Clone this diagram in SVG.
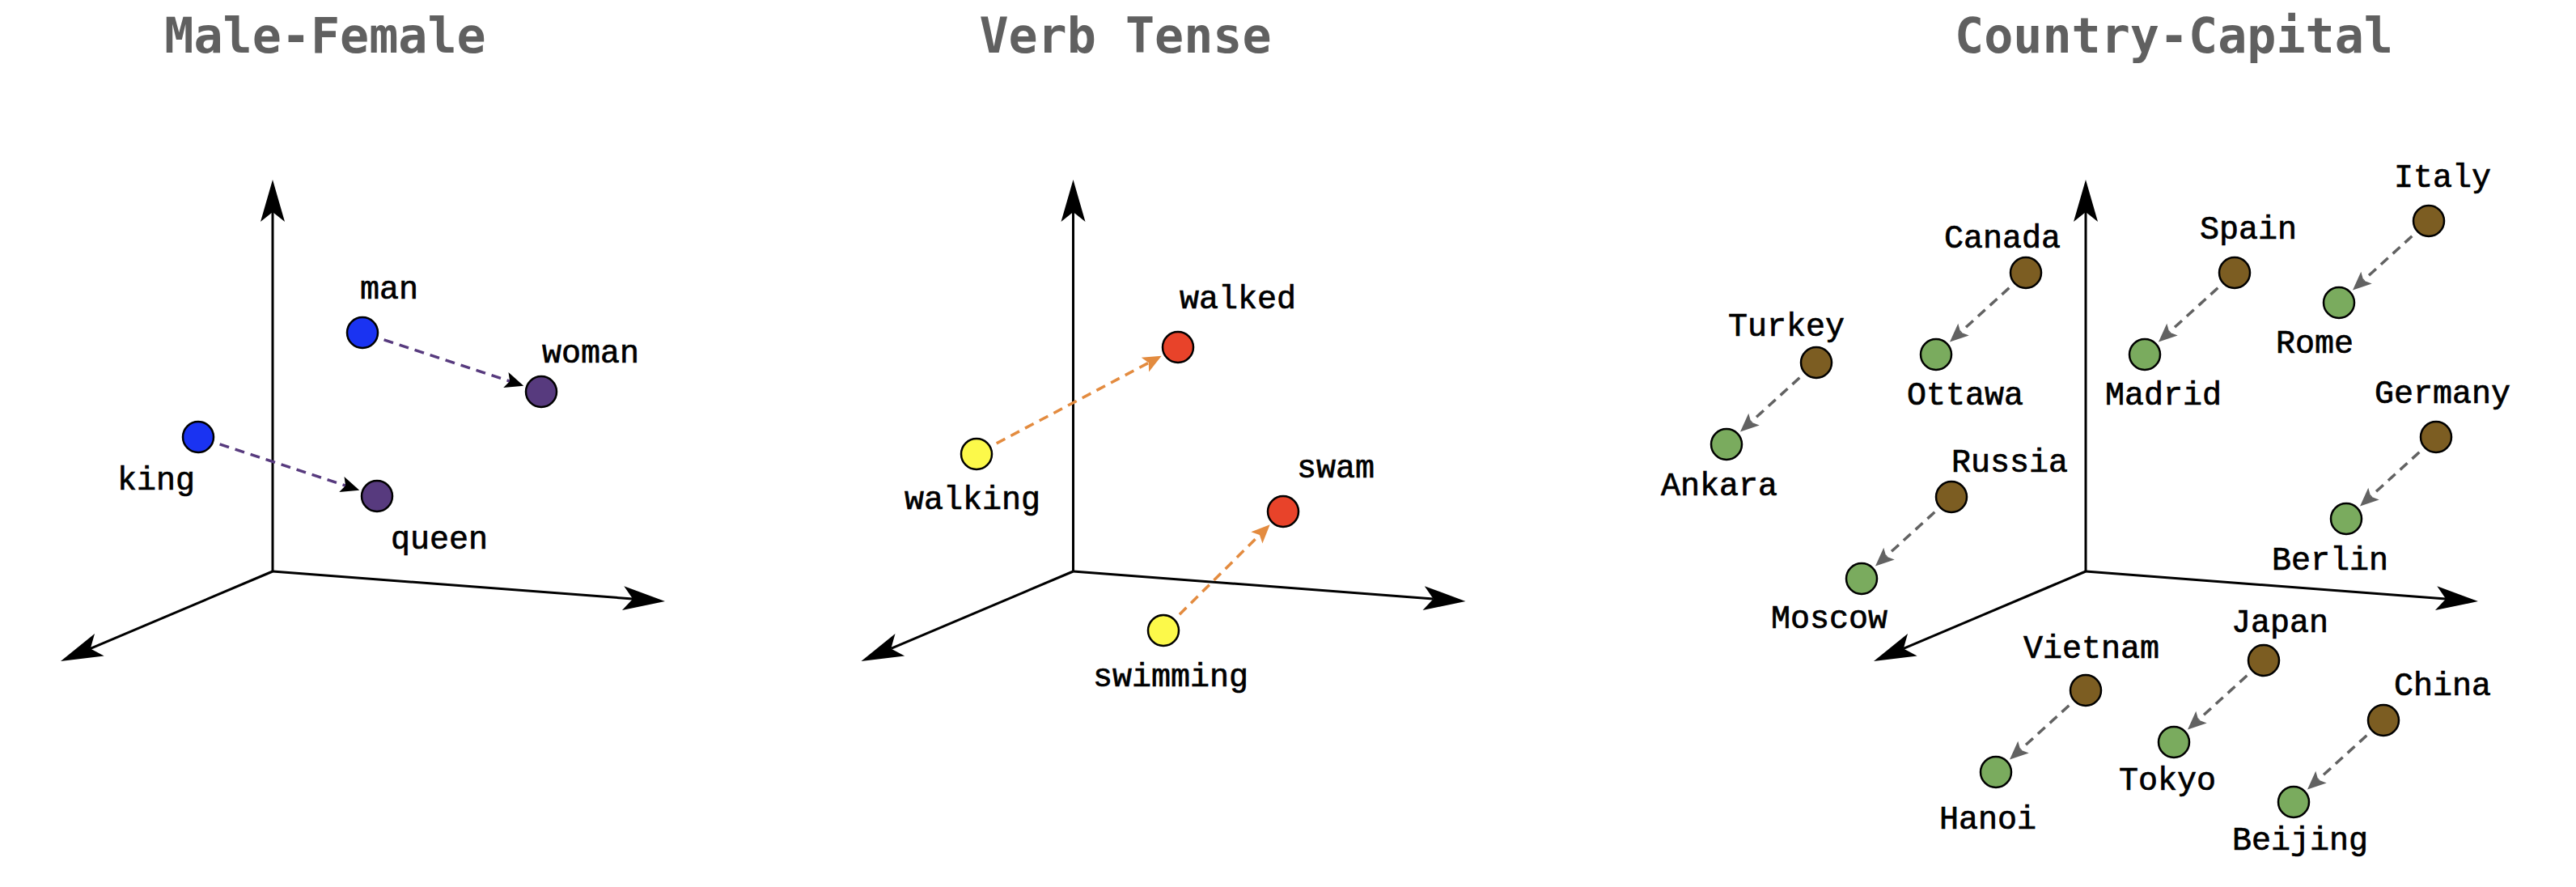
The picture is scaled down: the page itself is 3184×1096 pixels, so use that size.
<svg xmlns="http://www.w3.org/2000/svg" xmlns:xlink="http://www.w3.org/1999/xlink" width="3184" height="1096" viewBox="0 0 3184 1096">
<style>
.title{font-family:"DejaVu Sans Mono","Liberation Mono",monospace;font-weight:bold;font-size:60px;fill:#606060;text-anchor:middle}
.lbl{font-family:"Liberation Mono","Courier New",monospace;font-size:40px;fill:#000;stroke:#000;stroke-width:0.7}
.axis{stroke:#000;stroke-width:3;fill:none}
.pt{stroke:#000;stroke-width:2.5}
.blue{fill:#1a33f2}.purple{fill:#573a7e}.red{fill:#e8432a}.yellow{fill:#fcf94a}.brown{fill:#7c5d22}.green{fill:#7aab5e}
.dash{stroke-width:3.5;stroke-dasharray:12 8;fill:none}
.d-purple{stroke:#573a7e}.d-orange{stroke:#e38b3f}.d-gray{stroke:#626262}
</style>
<defs>
<marker id="axhead" markerUnits="userSpaceOnUse" viewBox="-14 -16 56 32" markerWidth="56" markerHeight="32" refX="0" refY="0" orient="auto" overflow="visible">
<path d="M40,0 L-12,-15 L0,0 L-12,15 Z" fill="#000"/>
</marker>
<marker id="hd-black" markerUnits="userSpaceOnUse" viewBox="-6 -12 26 24" markerWidth="26" markerHeight="24" refX="0" refY="0" orient="auto" overflow="visible">
<path d="M18,0 L-5,-10 L0,0 L-5,10 Z" fill="#000"/>
</marker>
<marker id="hd-orange" markerUnits="userSpaceOnUse" viewBox="-6 -12 26 24" markerWidth="26" markerHeight="24" refX="0" refY="0" orient="auto" overflow="visible">
<path d="M18,0 L-5,-10 L0,0 L-5,10 Z" fill="#e38b3f"/>
</marker>
<marker id="hd-gray" markerUnits="userSpaceOnUse" viewBox="-6 -12 26 24" markerWidth="26" markerHeight="24" refX="0" refY="0" orient="auto" overflow="visible">
<path d="M18,0 L-5,-10 L0,0 L-5,10 Z" fill="#626262"/>
</marker>
<g id="axes">
<line class="axis" x1="0" y1="0" x2="0" y2="-444" marker-end="url(#axhead)"/>
<line class="axis" x1="0" y1="0" x2="445.1" y2="34" marker-end="url(#axhead)"/>
<line class="axis" x1="0" y1="0" x2="-225.2" y2="95.4" marker-end="url(#axhead)"/>
</g>
</defs>
<rect width="3184" height="1096" fill="#fff"/>

<g id="titles">
<text class="title" x="402" y="65">Male-Female</text>
<text class="title" x="1391" y="65">Verb Tense</text>
<text class="title" x="2687" y="65">Country-Capital</text>
</g>

<g id="axes-all">
<use xlink:href="#axes" href="#axes" x="337" y="706"/>
<use xlink:href="#axes" href="#axes" x="1326.5" y="706"/>
<use xlink:href="#axes" href="#axes" x="2578" y="706"/>
</g>

<g id="connectors">
<line class="dash d-purple" x1="474.6" y1="419.8" x2="630.1" y2="471.1" marker-end="url(#hd-black)"/>
<line class="dash d-purple" x1="271.6" y1="548.8" x2="427.1" y2="600.1" marker-end="url(#hd-black)"/>
<line class="dash d-orange" x1="1231.7" y1="547.9" x2="1419.8" y2="448.2" marker-end="url(#hd-orange)"/>
<line class="dash d-orange" x1="1457.9" y1="759.3" x2="1556.9" y2="660.9" marker-end="url(#hd-orange)"/>
<line class="dash d-gray" x1="2483.3" y1="355.8" x2="2423.3" y2="410.4" marker-end="url(#hd-gray)"/>
<line class="dash d-gray" x1="2224.3" y1="466.8" x2="2164.3" y2="521.4" marker-end="url(#hd-gray)"/>
<line class="dash d-gray" x1="2741.3" y1="355.8" x2="2681.3" y2="410.4" marker-end="url(#hd-gray)"/>
<line class="dash d-gray" x1="2981.3" y1="291.8" x2="2921.3" y2="346.4" marker-end="url(#hd-gray)"/>
<line class="dash d-gray" x1="2990.3" y1="558.8" x2="2930.3" y2="613.4" marker-end="url(#hd-gray)"/>
<line class="dash d-gray" x1="2391.3" y1="632.8" x2="2331.3" y2="687.4" marker-end="url(#hd-gray)"/>
<line class="dash d-gray" x1="2777.3" y1="834.8" x2="2717.3" y2="889.4" marker-end="url(#hd-gray)"/>
<line class="dash d-gray" x1="2557.3" y1="871.8" x2="2497.3" y2="926.4" marker-end="url(#hd-gray)"/>
<line class="dash d-gray" x1="2925.3" y1="908.8" x2="2865.3" y2="963.4" marker-end="url(#hd-gray)"/>
</g>

<g id="man"><circle class="pt blue" cx="448" cy="411" r="19"/><text class="lbl" x="445" y="369">man</text></g>
<g id="woman"><circle class="pt purple" cx="669" cy="484" r="19"/><text class="lbl" x="670" y="448">woman</text></g>
<g id="king"><circle class="pt blue" cx="245" cy="540" r="19"/><text class="lbl" x="145" y="605">king</text></g>
<g id="queen"><circle class="pt purple" cx="466" cy="613" r="19"/><text class="lbl" x="483" y="678">queen</text></g>

<g id="walked"><circle class="pt red" cx="1456" cy="429" r="19"/><text class="lbl" x="1458" y="381">walked</text></g>
<g id="walking"><circle class="pt yellow" cx="1207" cy="561" r="19"/><text class="lbl" x="1118" y="629">walking</text></g>
<g id="swam"><circle class="pt red" cx="1586" cy="632" r="19"/><text class="lbl" x="1603" y="590">swam</text></g>
<g id="swimming"><circle class="pt yellow" cx="1438" cy="779" r="19"/><text class="lbl" x="1351" y="848">swimming</text></g>

<g id="canada"><circle class="pt brown" cx="2504" cy="337" r="19"/><text class="lbl" x="2403" y="306">Canada</text></g>
<g id="ottawa"><circle class="pt green" cx="2393" cy="438" r="19"/><text class="lbl" x="2357" y="500">Ottawa</text></g>
<g id="turkey"><circle class="pt brown" cx="2245" cy="448" r="19"/><text class="lbl" x="2136" y="415">Turkey</text></g>
<g id="ankara"><circle class="pt green" cx="2134" cy="549" r="19"/><text class="lbl" x="2053" y="612">Ankara</text></g>
<g id="spain"><circle class="pt brown" cx="2762" cy="337" r="19"/><text class="lbl" x="2719" y="295">Spain</text></g>
<g id="madrid"><circle class="pt green" cx="2651" cy="438" r="19"/><text class="lbl" x="2602" y="500">Madrid</text></g>
<g id="italy"><circle class="pt brown" cx="3002" cy="273" r="19"/><text class="lbl" x="2959" y="231">Italy</text></g>
<g id="rome"><circle class="pt green" cx="2891" cy="374" r="19"/><text class="lbl" x="2813" y="436">Rome</text></g>
<g id="germany"><circle class="pt brown" cx="3011" cy="540" r="19"/><text class="lbl" x="2935" y="498">Germany</text></g>
<g id="berlin"><circle class="pt green" cx="2900" cy="641" r="19"/><text class="lbl" x="2808" y="704">Berlin</text></g>
<g id="russia"><circle class="pt brown" cx="2412" cy="614" r="19"/><text class="lbl" x="2412" y="583">Russia</text></g>
<g id="moscow"><circle class="pt green" cx="2301" cy="715" r="19"/><text class="lbl" x="2189" y="776">Moscow</text></g>
<g id="japan"><circle class="pt brown" cx="2798" cy="816" r="19"/><text class="lbl" x="2758" y="781">Japan</text></g>
<g id="tokyo"><circle class="pt green" cx="2687" cy="917" r="19"/><text class="lbl" x="2619" y="976">Tokyo</text></g>
<g id="vietnam"><circle class="pt brown" cx="2578" cy="853" r="19"/><text class="lbl" x="2501" y="813">Vietnam</text></g>
<g id="hanoi"><circle class="pt green" cx="2467" cy="954" r="19"/><text class="lbl" x="2397" y="1024">Hanoi</text></g>
<g id="china"><circle class="pt brown" cx="2946" cy="890" r="19"/><text class="lbl" x="2959" y="859">China</text></g>
<g id="beijing"><circle class="pt green" cx="2835" cy="991" r="19"/><text class="lbl" x="2759" y="1050">Beijing</text></g>
</svg>
